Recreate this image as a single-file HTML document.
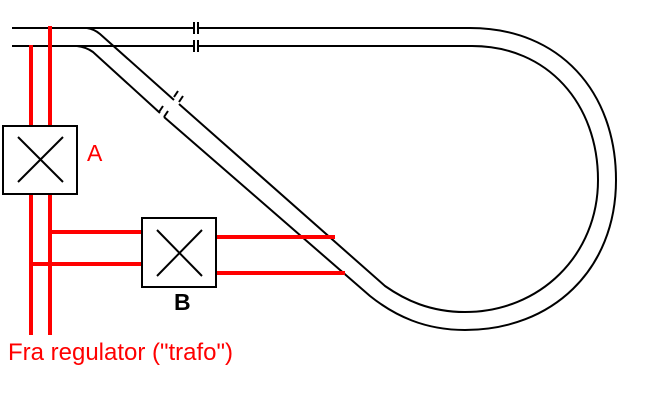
<!DOCTYPE html>
<html><head><style>body{margin:0;background:#fff}svg{display:block}</style></head>
<body>
<svg width="650" height="400" xmlns="http://www.w3.org/2000/svg">
<g fill="none" stroke="#000" stroke-width="2">
<path d="M12,28 H193 M199,28 H470 C560,28 616,92 616,180 C616,270 552,330 465,330 C425,330 395,316 370,296 L164,117 M160,113 L93,52 Q86,47 77,46"/>
<path d="M12,46 H193 M199,46 H472 C548,46 598,104 598,180 C598,255 540,312 465,312 C430,312 405,300 385,286 L179,104 M174,100 L100,34 Q94,29 87,28"/>
<path d="M194,22 V34 M198,22 V34 M194,40 V52 M198,40 V52 M174,97 l4,-6 M179,102 l4,-6 M159,112 l4,-6 M164,117 l4,-6"/>
</g>
<g stroke="#f00" stroke-width="4" fill="none">
<path d="M50,26 V335 M31,45 V335 M52,232 H142 M29,264 H142 M216,237 H335 M216,273 H345"/>
</g>
<rect x="3" y="126" width="74" height="68" fill="#fff" stroke="#000" stroke-width="2"/>
<path d="M18,137 L63,182 M63,137 L18,182" stroke="#000" stroke-width="2"/>
<rect x="142" y="218" width="74" height="69" fill="#fff" stroke="#000" stroke-width="2"/>
<path d="M157,230 L202,276 M202,230 L157,276" stroke="#000" stroke-width="2"/>
<text x="87" y="161" font-family="Liberation Sans, sans-serif" font-size="23" fill="#f00">A</text>
<text x="174" y="310" font-family="Liberation Sans, sans-serif" font-size="23" font-weight="bold" fill="#000">B</text>
<text x="8" y="360" font-family="Liberation Sans, sans-serif" font-size="24" fill="#f00" textLength="225" lengthAdjust="spacingAndGlyphs">Fra regulator ("trafo")</text>
</svg>
</body></html>
